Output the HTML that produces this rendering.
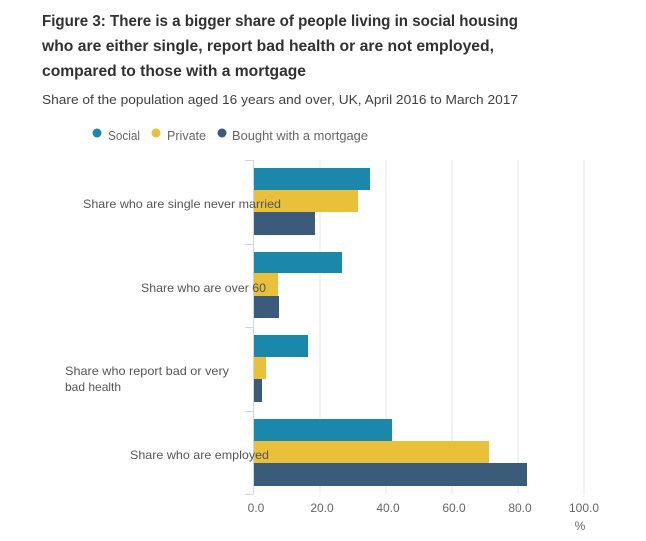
<!DOCTYPE html>
<html><head><style>
body{margin:0;background:#fff;width:646px;height:541px;overflow:hidden;font-family:"Liberation Sans",sans-serif;}
</style></head><body>
<svg width="646" height="541" style="position:absolute;left:0;top:0" font-family="Liberation Sans, sans-serif">
<g font-size="15.5" font-weight="bold" fill="#323132">
<text x="42" y="26" textLength="476" lengthAdjust="spacingAndGlyphs">Figure 3: There is a bigger share of people living in social housing</text>
<text x="42" y="51" textLength="452" lengthAdjust="spacingAndGlyphs">who are either single, report bad health or are not employed,</text>
<text x="42" y="76" textLength="264" lengthAdjust="spacingAndGlyphs">compared to those with a mortgage</text>
</g>
<text x="42" y="104" font-size="13" fill="#414042" textLength="476" lengthAdjust="spacingAndGlyphs">Share of the population aged 16 years and over, UK, April 2016 to March 2017</text>
<g font-size="12.5" fill="#666">
<circle cx="97" cy="133" r="4.5" fill="#1a87ab"/><text x="108" y="140" textLength="32" lengthAdjust="spacingAndGlyphs">Social</text>
<circle cx="156" cy="133" r="4.5" fill="#e8c03a"/><text x="167" y="140" textLength="39" lengthAdjust="spacingAndGlyphs">Private</text>
<circle cx="222" cy="133" r="4.5" fill="#3b5b7a"/><text x="232" y="140" textLength="136" lengthAdjust="spacingAndGlyphs">Bought with a mortgage</text>
</g>
<g stroke="#e6e6e6" stroke-width="1">
<line x1="320" y1="160" x2="320" y2="494"/><line x1="386" y1="160" x2="386" y2="494"/>
<line x1="452" y1="160" x2="452" y2="494"/><line x1="518" y1="160" x2="518" y2="494"/>
<line x1="584" y1="160" x2="584" y2="494"/>
</g>
<g stroke="#ccd6eb" stroke-width="1">
<line x1="253.5" y1="160" x2="253.5" y2="494"/>
<line x1="245" y1="160.5" x2="253" y2="160.5"/><line x1="245" y1="244.5" x2="253" y2="244.5"/>
<line x1="245" y1="327.5" x2="253" y2="327.5"/><line x1="245" y1="411.5" x2="253" y2="411.5"/>
<line x1="245" y1="494.5" x2="253" y2="494.5"/>
</g>
<g>
<rect x="254" y="168" width="116" height="22" fill="#1a87ab"/>
<rect x="254" y="190" width="104" height="22" fill="#e8c03a"/>
<rect x="254" y="212" width="61" height="23" fill="#3b5b7a"/>
<rect x="254" y="252" width="88" height="21" fill="#1a87ab"/>
<rect x="254" y="273" width="24" height="23" fill="#e8c03a"/>
<rect x="254" y="296" width="25" height="22" fill="#3b5b7a"/>
<rect x="254" y="335" width="54" height="22" fill="#1a87ab"/>
<rect x="254" y="357" width="12" height="22" fill="#e8c03a"/>
<rect x="254" y="379" width="8" height="23" fill="#3b5b7a"/>
<rect x="254" y="419" width="138" height="22" fill="#1a87ab"/>
<rect x="254" y="441" width="235" height="22" fill="#e8c03a"/>
<rect x="254" y="463" width="273" height="23" fill="#3b5b7a"/>
</g>
<g font-size="12" fill="#555">
<text x="83" y="208" textLength="198" lengthAdjust="spacingAndGlyphs">Share who are single never married</text>
<text x="141" y="292" textLength="125" lengthAdjust="spacingAndGlyphs">Share who are over 60</text>
<text x="65" y="375" textLength="164" lengthAdjust="spacingAndGlyphs">Share who report bad or very</text>
<text x="65" y="391">bad health</text>
<text x="130" y="459" textLength="139" lengthAdjust="spacingAndGlyphs">Share who are employed</text>
</g>
<g font-size="12" fill="#666" text-anchor="middle">
<text x="256" y="512">0.0</text><text x="322" y="512">20.0</text><text x="388" y="512">40.0</text>
<text x="454" y="512">60.0</text><text x="520" y="512">80.0</text><text x="584" y="512">100.0</text>
<text x="580" y="530">%</text>
</g>
</svg>
</body></html>
